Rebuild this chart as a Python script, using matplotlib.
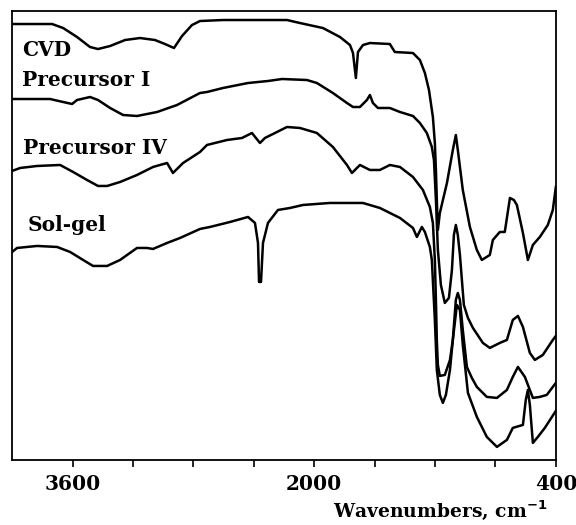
import numpy as np
import matplotlib.pyplot as plt

#%% datos leidos del espectro (numero de onda en cm-1, transmitancia en u.a.)

wn_cvd = [4000, 3735, 3662, 3570, 3484, 3431, 3351, 3252, 3153, 3054, 2988, 2928, 2875, 2809,
          2756, 2604, 2180, 2094, 1942, 1829, 1763, 1743, 1724, 1710, 1677, 1631, 1499, 1466,
          1346, 1300, 1267, 1240, 1214, 1201, 1194, 1188, 1181, 1168, 1121, 1082, 1062, 1049,
          1016, 969, 923, 890, 837, 817, 771, 738, 704, 678, 658, 618, 585, 552, 506, 453, 420, 400]
t_cvd = [436, 436, 432, 423, 413, 411, 414, 420, 422, 420, 416, 412, 424, 435,
         439, 440, 440, 437, 432, 423, 415, 407, 382, 408, 415, 417, 416, 408,
         407, 400, 387, 370, 343, 317, 290, 260, 230, 247, 277, 310, 325, 310,
         270, 233, 210, 200, 205, 220, 228, 228, 262, 260, 255, 227, 200, 215, 223, 235, 250, 273]

wn_p1 = [4000, 3749, 3662, 3603, 3570, 3484, 3431, 3351, 3265, 3173, 3040, 2908, 2756, 2710,
         2604, 2438, 2306, 2213, 2048, 1982, 1876, 1783, 1743, 1697, 1651, 1631, 1611, 1578,
         1499, 1432, 1346, 1300, 1254, 1221, 1207, 1194, 1181, 1161, 1135, 1108, 1088, 1075,
         1062, 1049, 1035, 1022, 1009, 982, 949, 883, 837, 771, 724, 685, 651, 618, 572, 539,
         486, 420, 400]
t_p1 = [361, 361, 358, 356, 360, 363, 360, 352, 345, 344, 348, 355, 367, 368,
        372, 377, 379, 381, 380, 377, 367, 357, 353, 353, 360, 365, 357, 352,
        352, 348, 344, 337, 327, 313, 300, 260, 210, 175, 157, 162, 190, 225,
        235, 225, 205, 180, 155, 142, 132, 117, 112, 117, 120, 140, 144, 133, 107, 100,
        105, 120, 124]

wn_p4 = [4000, 3947, 3835, 3682, 3596, 3504, 3431, 3371, 3285, 3173, 3067, 2974, 2935, 2868,
         2756, 2710, 2577, 2478, 2412, 2359, 2326, 2180, 2094, 1982, 1876, 1783, 1750, 1697,
         1631, 1565, 1499, 1432, 1346, 1280, 1234, 1214, 1201, 1194, 1188, 1181, 1168, 1135,
         1101, 1082, 1062, 1049, 1035, 1016, 989, 956, 923, 857, 790, 724, 685, 651, 605, 552,
         506, 460, 420, 400]
t_p4 = [289, 292, 294, 295, 288, 280, 274, 274, 278, 285, 293, 297, 287, 297,
        308, 315, 320, 322, 327, 317, 322, 333, 332, 327, 313, 295, 287, 295,
        290, 290, 295, 293, 283, 270, 253, 237, 200, 160, 120, 95, 84, 85,
        100, 120, 160, 167, 160, 130, 93, 82, 73, 63, 62, 70, 83, 93, 83, 62,
        63, 65, 73, 77]

wn_sg = [4000, 3967, 3835, 3702, 3616, 3530, 3464, 3371, 3285, 3173, 3107, 3067, 2974, 2888,
         2756, 2690, 2557, 2438, 2392, 2372, 2365, 2352, 2339, 2306, 2240, 2160, 2074, 1896,
         1677, 1565, 1432, 1346, 1320, 1287, 1267, 1234, 1221, 1201, 1188, 1168, 1148, 1128,
         1101, 1082, 1055, 1035, 1016, 982, 923, 857, 790, 724, 685, 618, 599, 585, 572, 552,
         519, 473, 400]
t_sg = [208, 212, 214, 213, 208, 200, 194, 194, 200, 212, 212, 211, 217, 222,
        231, 233, 238, 243, 237, 217, 178, 178, 217, 237, 250, 252, 255, 257,
        257, 252, 242, 232, 223, 233, 228, 213, 200, 140, 90, 65, 57, 65,
        90, 120, 155, 150, 115, 67, 43, 23, 13, 20, 32, 35, 60, 70, 55, 17,
        23, 32, 49]

nombres = ['CVD', 'Precursor I', 'Precursor IV', 'Sol-gel']
etiqueta_wn = [3934, 3934, 3927, 3900]
etiqueta_t = [404, 374, 306, 229]

ticks = [3600, 3200, 2800, 2400, 2000, 1600, 1200, 800, 400]
ticks_txt = ['3600', '', '', '', '2000', '', '', '', '400']

#%% grafico

plt.rcParams['font.family'] = 'DejaVu Serif'
plt.rcParams['font.weight'] = 'bold'

fig = plt.figure(figsize=(5.76, 5.25), dpi=100)
ax = fig.add_axes([0.021, 0.124, 0.944, 0.855])

for wn, t in [(wn_cvd, t_cvd), (wn_p1, t_p1), (wn_p4, t_p4), (wn_sg, t_sg)]:
    ax.plot(wn, t, color='black', lw=1.8, solid_joinstyle='round')

for nom, xx, yy in zip(nombres, etiqueta_wn, etiqueta_t):
    ax.text(xx, yy, nom, fontsize=14.5, fontweight='bold', ha='left', va='baseline')

ax.set_xlim(4000, 400)
ax.set_ylim(0, 449)
ax.set_yticks([])
ax.set_xticks(ticks)
ax.set_xticklabels(ticks_txt)
ax.tick_params(axis='x', direction='out', length=5, width=1.2, pad=5, labelsize=14.5)
for s in ax.spines.values():
    s.set_linewidth(1.3)
ax.set_xlabel('Wavenumbers, cm$^{\\mathbf{-1}}$', fontsize=13.5, fontweight='bold',
              ha='right', va='top')
ax.xaxis.set_label_coords(0.985, -0.086)

plt.savefig('out.png', dpi=100)
